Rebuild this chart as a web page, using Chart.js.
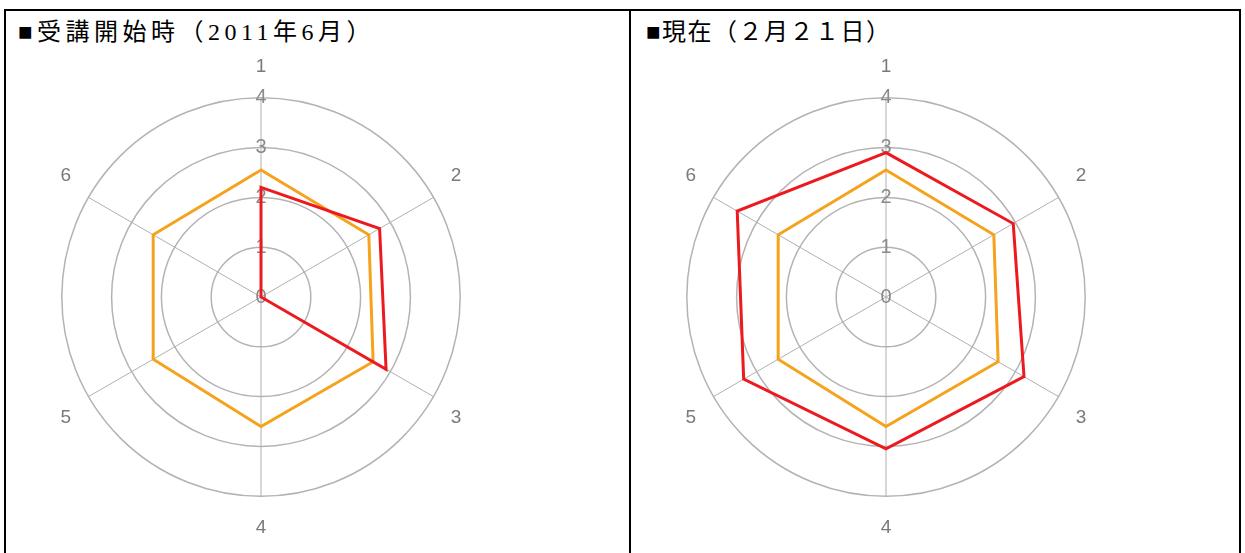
<!DOCTYPE html>
<html>
<head>
<meta charset="utf-8">
<script src="https://cdn.jsdelivr.net/npm/chart.js@4"></script>
<style>
  html, body { margin: 0; padding: 0; background: #fff; }
  body { width: 1245px; height: 553px; position: relative; overflow: hidden; }
  .line { position: absolute; background: #000; }
  .title {
    position: absolute; top: 12px;
    font-family: "Liberation Serif", "Noto Sans CJK JP", serif;
    font-size: 24px; color: #000; white-space: nowrap;
  }
  canvas { position: absolute; }
</style>
</head>
<body>
<div class="line" style="left:4px; top:9px; width:1237px; height:2px;"></div>
<div class="line" style="left:4px; top:9px; width:2px; height:544px;"></div>
<div class="line" style="left:629px; top:9px; width:2px; height:544px;"></div>
<div class="line" style="left:1239px; top:9px; width:2px; height:544px;"></div>

<div class="title" style="left:18px; letter-spacing:4.5px;">■受講開始時（2011年6月）</div>
<div class="title" style="left:646px; letter-spacing:1.5px;">■現在（２月２１日）</div>

<canvas id="c1" width="484" height="484" style="left:19px; top:56px;"></canvas>
<canvas id="c2" width="484" height="484" style="left:644px; top:56px;"></canvas>

<script>
const axisLabels = ["1", "2", "3", "4", "5", "6"];
const tickValues = [0, 1, 2, 3, 4];

// 受講開始時
const startRed = [2.2, 2.75, 2.9, 0, 0, 0];
const startOrange = [2.55, 2.5, 2.6, 2.6, 2.5, 2.5];

// 現在
const nowRed = [2.9, 2.95, 3.2, 3.05, 3.3, 3.45];
const nowOrange = [2.55, 2.5, 2.6, 2.6, 2.5, 2.5];

const red = "#ec1a1f";
const orange = "#f5a21c";
const tickFont = { family: "'Liberation Sans Narrow', 'Liberation Sans'", size: 20 };

// chart.js skips the label of the first tick (0), draw it at the scale centre
const zeroLabel = {
  id: "zeroLabel",
  beforeDatasetsDraw(chart) {
    const s = chart.scales.r;
    const ctx = chart.ctx;
    const pos = s.getPointPositionForValue(0, s.ticks[0].value);
    ctx.save();
    ctx.font = tickFont.size + "px " + tickFont.family;
    ctx.fillStyle = s.options.ticks.color;
    ctx.textAlign = "center";
    ctx.textBaseline = "middle";
    ctx.fillText(s.ticks[0].label, pos.x, pos.y);
    ctx.restore();
  },
};

function makeConfig(redData, orangeData) {
  return {
    type: "radar",
    data: {
      labels: axisLabels,
      datasets: [
        {
          data: redData,
          borderColor: red,
          borderWidth: 3,
          fill: false,
          pointRadius: 0,
          tension: 0,
        },
        {
          data: orangeData,
          borderColor: orange,
          borderWidth: 3,
          fill: false,
          pointRadius: 0,
          tension: 0,
        },
      ],
    },
    options: {
      responsive: false,
      animation: false,
      plugins: {
        legend: { display: false },
        tooltip: { enabled: false },
      },
      layout: { padding: 0 },
      scales: {
        r: {
          min: tickValues[0],
          max: tickValues[tickValues.length - 1],
          ticks: {
            stepSize: 1,
            showLabelBackdrop: false,
            color: "#8a8a8a",
            font: tickFont,
          },
          grid: {
            circular: true,
            color: "#b3b3b3",
            lineWidth: 1.5,
          },
          angleLines: {
            color: "#b0b0b0",
            lineWidth: 1,
          },
          pointLabels: {
            color: "#7a7a7a",
            padding: 8,
            font: { family: "'Liberation Sans Narrow', 'Liberation Sans'", size: 19 },
          },
        },
      },
    },
    plugins: [zeroLabel],
  };
}

new Chart(document.getElementById("c1"), makeConfig(startRed, startOrange));
new Chart(document.getElementById("c2"), makeConfig(nowRed, nowOrange));
</script>
</body>
</html>
